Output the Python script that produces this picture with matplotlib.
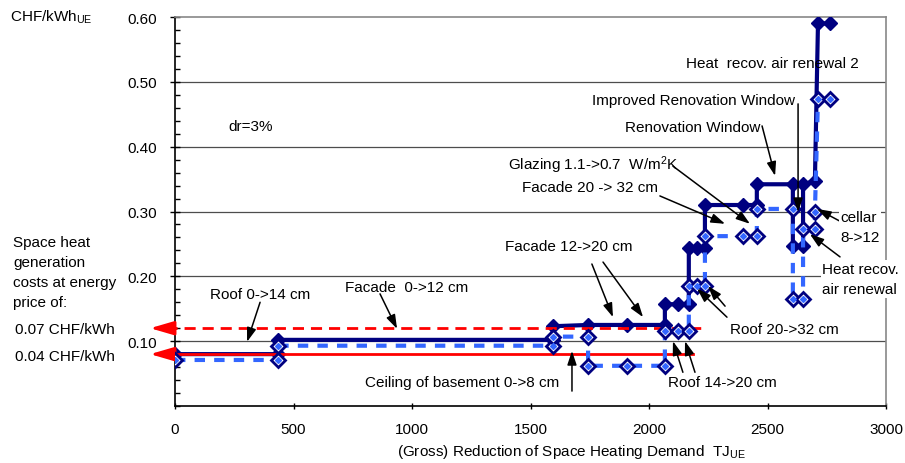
import matplotlib
matplotlib.use("Agg")
import matplotlib.pyplot as plt
from matplotlib.ticker import MultipleLocator

plt.rcParams['font.family'] = ['Liberation Sans', 'DejaVu Sans']
plt.rcParams['mathtext.default'] = 'regular'
plt.rcParams['font.size'] = 11

# cost curve at the higher energy price (filled diamonds)
solid_x = [0, 436, 436, 1594, 1594, 1743, 1907, 2067, 2067, 2122, 2168, 2168, 2202, 2236,
           2236, 2396, 2455, 2455, 2607, 2607, 2650, 2650, 2700, 2713, 2765]
solid_y = [0.080, 0.080, 0.102, 0.102, 0.123, 0.125, 0.125, 0.125, 0.157, 0.157, 0.157, 0.244,
           0.244, 0.244, 0.310, 0.310, 0.310, 0.342, 0.342, 0.247, 0.247, 0.342, 0.347, 0.590, 0.590]

# cost curve at the lower energy price (open diamonds)
dashed_x = [0, 436, 436, 1594, 1594, 1743, 1743, 1907, 2067, 2067, 2122, 2168, 2168, 2202,
            2236, 2236, 2396, 2455, 2455, 2607, 2607, 2650, 2650, 2700, 2700, 2713, 2765]
dashed_y = [0.071, 0.071, 0.093, 0.093, 0.107, 0.107, 0.062, 0.062, 0.062, 0.116, 0.116, 0.116,
            0.185, 0.185, 0.185, 0.262, 0.262, 0.262, 0.304, 0.304, 0.165, 0.165, 0.273, 0.273,
            0.299, 0.474, 0.474]

# space heat generation cost at 0.07 and 0.04 CHF/kWh
price_high = 0.12
price_high_end = 2236
price_low = 0.08
price_low_end = 2186

x_ticks = [0, 500, 1000, 1500, 2000, 2500, 3000]
y_ticks = [0.1, 0.2, 0.3, 0.4, 0.5, 0.6]
y_labels = ['0.10', '0.20', '0.30', '0.40', '0.50', '0.60']

navy = '#000080'
light = '#3366ff'

fig = plt.figure(figsize=(9.05, 4.64), dpi=100)
ax = fig.add_axes([175 / 905, 57 / 464, 711 / 905, 389 / 464])
ax.set_xlim(0, 3000)
ax.set_ylim(0, 0.6)

ax.set_xticks(x_ticks)
ax.set_yticks(y_ticks)
ax.set_yticklabels(y_labels)
ax.yaxis.set_minor_locator(MultipleLocator(0.02))
ax.tick_params(axis='y', which='major', direction='inout', length=7.2, width=1, pad=9.4)
ax.tick_params(axis='y', which='minor', direction='in', length=3.6, width=1)
ax.tick_params(axis='x', direction='inout', length=5, width=1, pad=9)

for s in ['left', 'bottom']:
    ax.spines[s].set_linewidth(1.2)
for s in ['top', 'right']:
    ax.spines[s].set_color('#888888')
    ax.spines[s].set_linewidth(1.2)

# horizontal grid
for v in y_ticks[:-1]:
    ax.axhline(v, color='#4d4d4d', lw=0.9, zorder=1)

ax.plot(solid_x, solid_y, color=navy, lw=3, marker='D', ms=7.5,
        mfc=navy, mec=navy, zorder=3)

# energy price lines with arrows out to the left labels
ax.plot([-40, price_high_end], [price_high, price_high], color='red', lw=2,
        dashes=(4, 2.5), clip_on=False, zorder=4)
ax.plot([-40, price_low_end], [price_low, price_low], color='red', lw=2,
        clip_on=False, zorder=4)
for yy in [price_high, price_low]:
    ax.annotate('', xy=(-105, yy), xytext=(-20, yy), annotation_clip=False,
                arrowprops=dict(arrowstyle='-|>,head_length=1.2,head_width=0.35',
                                color='red', lw=2, mutation_scale=12, shrinkA=0, shrinkB=0))

ax.plot(dashed_x, dashed_y, color=light, lw=3, dashes=(2.5, 2.2), marker='D', ms=7.5,
        mfc='white', mec=navy, mew=2, zorder=5)
ax.plot(dashed_x, dashed_y, ls='none', marker='D', ms=3, mfc=light, mec=light, zorder=6)


def arrow(tail, tip):
    ax.annotate('', xy=tip, xytext=tail, zorder=7,
                arrowprops=dict(arrowstyle='-|>,head_length=0.6,head_width=0.2',
                                color='black', lw=1.1, mutation_scale=14,
                                shrinkA=0, shrinkB=0))


# labels of the measures
ax.text(148, 0.173, 'Roof 0->14 cm', va='center')
arrow((359, 0.160), (304, 0.099))
ax.text(717, 0.184, 'Facade  0->12 cm', va='center')
arrow((865, 0.173), (937, 0.119))
ax.text(1392, 0.247, 'Facade 12->20 cm', va='center')
arrow((1759, 0.219), (1848, 0.137))
arrow((1806, 0.222), (1975, 0.137))
ax.text(802, 0.037, 'Ceiling of basement 0->8 cm', va='center')
arrow((1675, 0.023), (1675, 0.085))
ax.text(2080, 0.037, 'Roof 14->20 cm', va='center')
arrow((2143, 0.052), (2101, 0.100))
arrow((2194, 0.052), (2152, 0.100))
ax.text(2342, 0.119, 'Roof 20->32 cm', va='center')
arrow((2329, 0.137), (2203, 0.181))
arrow((2321, 0.154), (2249, 0.185))
ax.text(1464, 0.338, 'Facade 20 -> 32 cm', va='center')
arrow((2046, 0.324), (2321, 0.281))
ax.text(1405, 0.373, 'Glazing 1.1->0.7  W/m$^2$K', va='center')
arrow((2101, 0.370), (2426, 0.281))
ax.text(2468, 0.431, 'Renovation Window', va='center', ha='right')
arrow((2477, 0.432), (2532, 0.355))
ax.text(2616, 0.472, 'Improved Renovation Window', va='center', ha='right')
arrow((2629, 0.466), (2629, 0.299))
ax.text(2519, 0.529, 'Heat  recov. air renewal 2', va='center', ha='center')
ax.text(2806, 0.276, 'cellar\n8->12', va='center', linespacing=1.6, zorder=8,
        bbox=dict(facecolor='white', edgecolor='none', pad=1), clip_on=False)
arrow((2806, 0.285), (2709, 0.304))
ax.text(2730, 0.196, 'Heat recov.\nair renewal', va='center', linespacing=1.6, zorder=8,
        bbox=dict(facecolor='white', edgecolor='none', pad=1), clip_on=False)
arrow((2806, 0.230), (2679, 0.265))
ax.text(224, 0.432, 'dr=3%', va='center')

# texts outside the plot area
fig.text(10 / 905, 1 - 17 / 464, 'CHF/kWh$_{UE}$', va='center')
left_lines = ['Space heat', 'generation', 'costs at energy', 'price of:']
for i, t in enumerate(left_lines):
    fig.text(13 / 905, 1 - (243 + 20 * i) / 464, t, va='center')
fig.text(15 / 905, 1 - 330 / 464, '0.07 CHF/kWh', va='center')
fig.text(15 / 905, 1 - 357 / 464, '0.04 CHF/kWh', va='center')
fig.text(571 / 905, 1 - 452 / 464, '(Gross) Reduction of Space Heating Demand  TJ$_{UE}$',
         ha='center', va='center')

fig.savefig('out.png', dpi=100)
